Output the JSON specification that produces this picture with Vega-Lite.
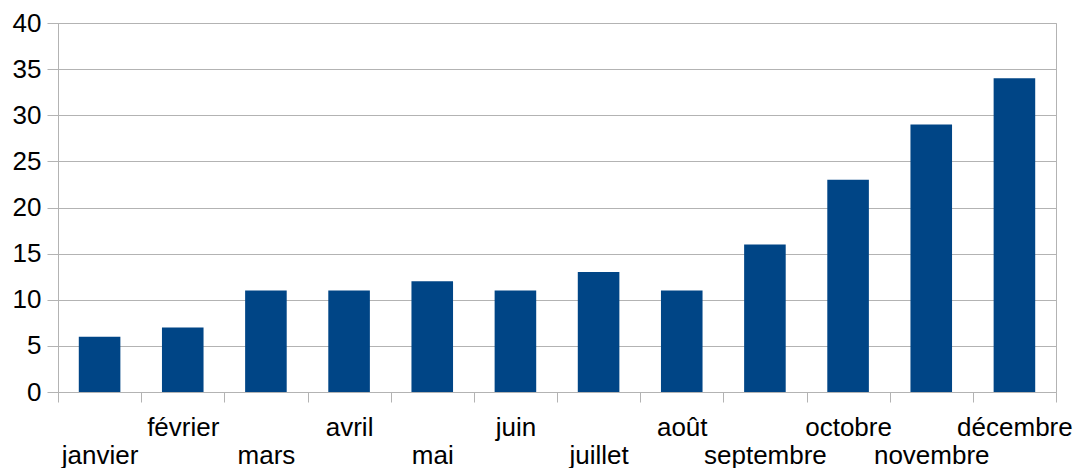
{
  "$schema": "https://vega.github.io/schema/vega-lite/v6.json",
  "autosize": "none",
  "width": 998,
  "height": 369,
  "padding": {"left": 58, "top": 23, "right": 17, "bottom": 76},
  "background": "white",
  "config": {
    "view": {"stroke": "#b3b3b3", "strokeWidth": 1},
    "font": "Liberation Sans"
  },
  "data": {
    "values": [
      {"mois": "janvier", "valeur": 6},
      {"mois": "février", "valeur": 7},
      {"mois": "mars", "valeur": 11},
      {"mois": "avril", "valeur": 11},
      {"mois": "mai", "valeur": 12},
      {"mois": "juin", "valeur": 11},
      {"mois": "juillet", "valeur": 13},
      {"mois": "août", "valeur": 11},
      {"mois": "septembre", "valeur": 16},
      {"mois": "octobre", "valeur": 23},
      {"mois": "novembre", "valeur": 29},
      {"mois": "décembre", "valeur": 34}
    ]
  },
  "mark": {"type": "bar", "color": "#004586", "width": {"band": 0.5}},
  "encoding": {
    "x": {
      "field": "mois",
      "type": "nominal",
      "sort": null,
      "scale": {"paddingInner": 0, "paddingOuter": 0},
      "axis": {
        "title": null,
        "labelAngle": 0,
        "labelFont": "Liberation Sans",
        "labelFontSize": 26,
        "labelColor": "#000000",
        "labelPadding": {"expr": "indexof(['janvier','mars','mai','juillet','septembre','novembre'], datum.value) >= 0 ? 40 : 12"},
        "labelOverlap": false,
        "labelBound": false,
        "tickBand": "extent",
        "tickSize": 10,
        "tickColor": "#b3b3b3",
        "domainColor": "#b3b3b3",
        "grid": false
      }
    },
    "y": {
      "field": "valeur",
      "type": "quantitative",
      "scale": {"domain": [0, 40]},
      "axis": {
        "title": null,
        "values": [0, 5, 10, 15, 20, 25, 30, 35, 40],
        "labelFont": "Liberation Sans",
        "labelFontSize": 26,
        "labelColor": "#000000",
        "labelPadding": 6,
        "tickSize": 11,
        "tickColor": "#b3b3b3",
        "domainColor": "#b3b3b3",
        "gridColor": "#b3b3b3",
        "grid": true
      }
    }
  }
}
